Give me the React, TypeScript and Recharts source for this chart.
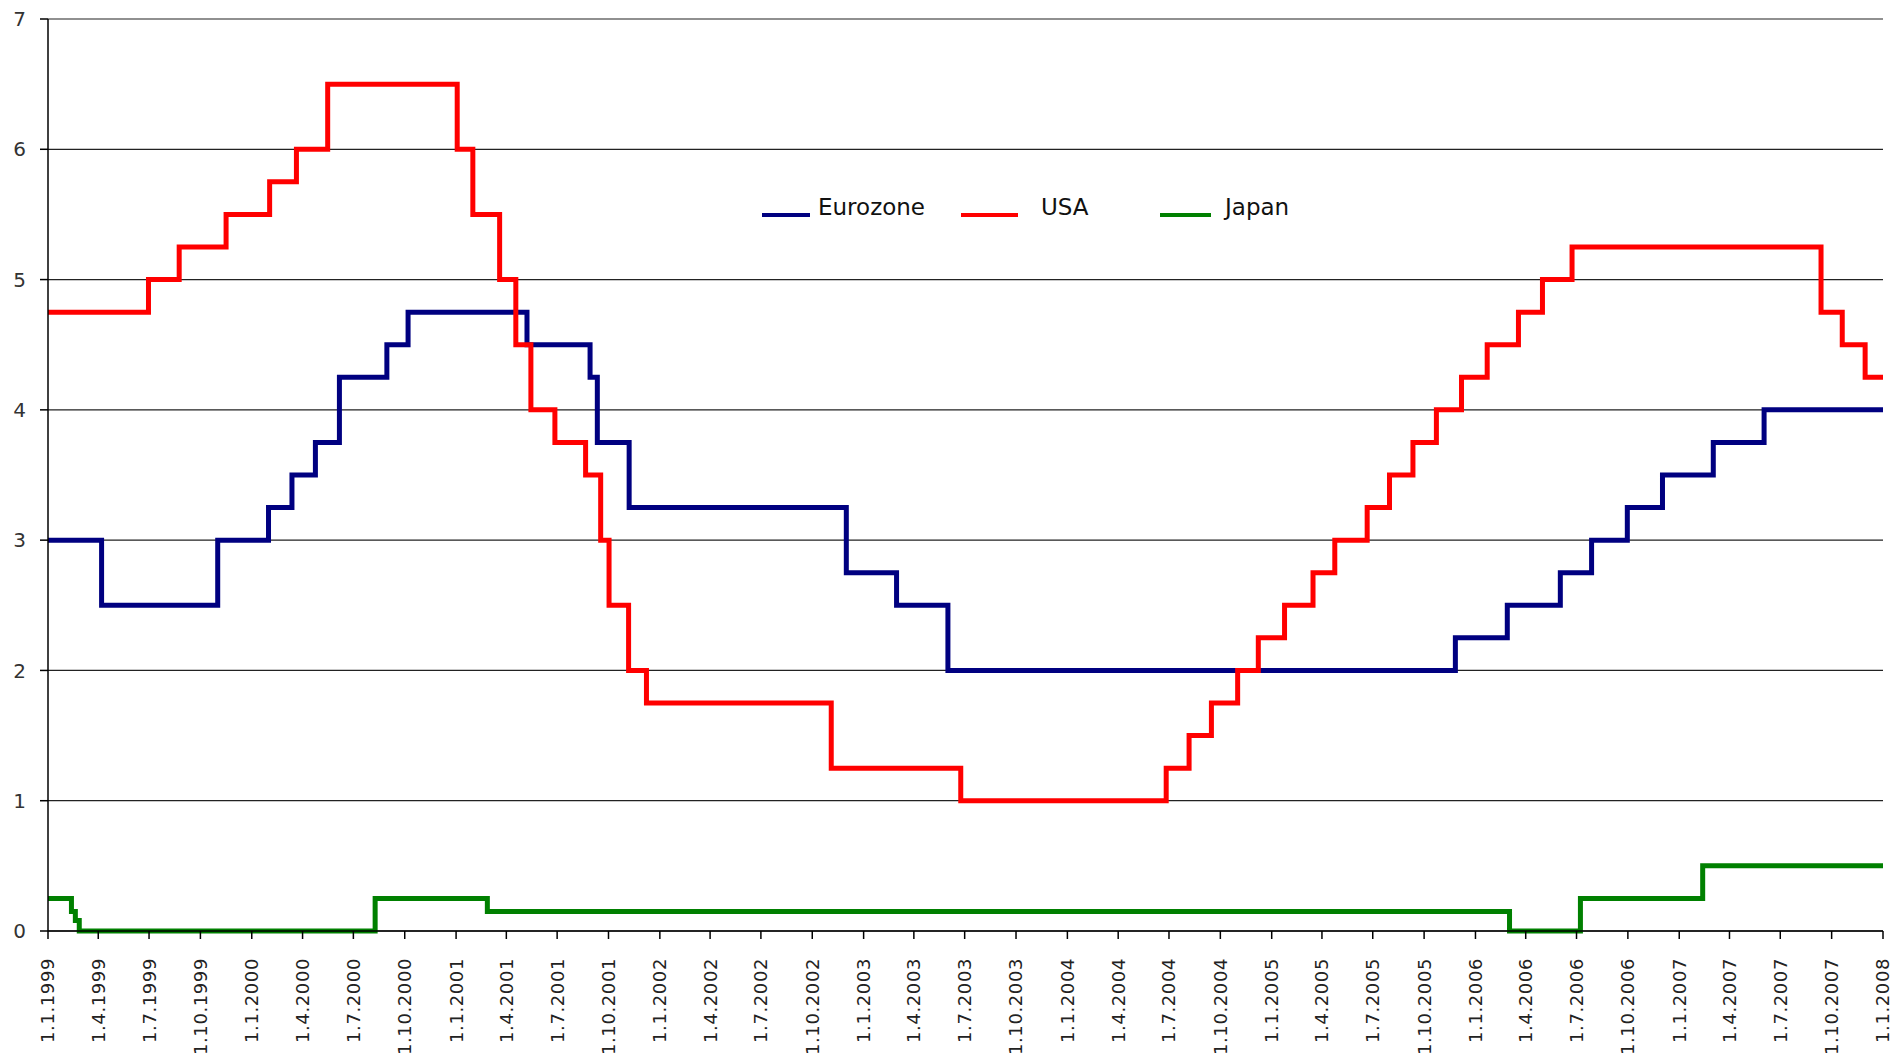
import React from 'react'
import { LineChart, Line, XAxis, YAxis, CartesianGrid } from 'recharts'

// Key interest rates, changes as (date, rate) in d.m.yyyy
const eurozoneDates = [
  '1.1.1999', '7.4.1999', '1.11.1999', '31.1.2000', '13.3.2000', '24.4.2000',
  '6.6.2000', '30.8.2000', '7.10.2000', '8.5.2001', '29.8.2001', '11.9.2001',
  '7.11.2001', '1.12.2002', '1.3.2003', '1.6.2003', '26.11.2005', '27.2.2006',
  '2.6.2006', '28.7.2006', '30.9.2006', '2.12.2006', '3.3.2007', '2.6.2007',
  '1.1.2008',
]
const eurozoneRates = [
  3.0, 2.5, 3.0, 3.25, 3.5, 3.75,
  4.25, 4.5, 4.75, 4.5, 4.25, 3.75,
  3.25, 2.75, 2.5, 2.0, 2.25, 2.5,
  2.75, 3.0, 3.25, 3.5, 3.75, 4.0,
  4.0,
]

const usaDates = [
  '1.1.1999', '30.6.1999', '24.8.1999', '16.11.1999', '2.2.2000', '21.3.2000',
  '16.5.2000', '3.1.2001', '31.1.2001', '20.3.2001', '18.4.2001', '15.5.2001',
  '27.6.2001', '21.8.2001', '17.9.2001', '2.10.2001', '6.11.2001', '8.12.2001',
  '4.11.2002', '24.6.2003', '26.6.2004', '6.8.2004', '15.9.2004', '1.11.2004',
  '8.12.2004', '24.1.2005', '16.3.2005', '24.4.2005', '21.6.2005', '31.7.2005',
  '11.9.2005', '23.10.2005', '7.12.2005', '22.1.2006', '19.3.2006', '1.5.2006',
  '23.6.2006', '12.9.2007', '20.10.2007', '30.11.2007', '1.1.2008',
]
const usaRates = [
  4.75, 5.0, 5.25, 5.5, 5.75, 6.0,
  6.5, 6.0, 5.5, 5.0, 4.5, 4.0,
  3.75, 3.5, 3.0, 2.5, 2.0, 1.75,
  1.25, 1.0, 1.25, 1.5, 1.75, 2.0,
  2.25, 2.5, 2.75, 3.0, 3.25, 3.5,
  3.75, 4.0, 4.25, 4.5, 4.75, 5.0,
  5.25, 4.75, 4.5, 4.25, 4.25,
]

const japanDates = [
  '1.1.1999', '12.2.1999', '19.2.1999', '26.2.1999', '9.8.2000', '26.2.2001',
  '3.3.2006', '8.7.2006', '12.2.2007', '1.1.2008',
]
const japanRates = [0.25, 0.15, 0.08, 0.0, 0.25, 0.15, 0.0, 0.25, 0.5, 0.5]

const tickLabels = [
  '1.1.1999', '1.4.1999', '1.7.1999', '1.10.1999',
  '1.1.2000', '1.4.2000', '1.7.2000', '1.10.2000',
  '1.1.2001', '1.4.2001', '1.7.2001', '1.10.2001',
  '1.1.2002', '1.4.2002', '1.7.2002', '1.10.2002',
  '1.1.2003', '1.4.2003', '1.7.2003', '1.10.2003',
  '1.1.2004', '1.4.2004', '1.7.2004', '1.10.2004',
  '1.1.2005', '1.4.2005', '1.7.2005', '1.10.2005',
  '1.1.2006', '1.4.2006', '1.7.2006', '1.10.2006',
  '1.1.2007', '1.4.2007', '1.7.2007', '1.10.2007',
  '1.1.2008',
]
const yTicks = [0, 1, 2, 3, 4, 5, 6, 7]

const parseDate = (s: string) => {
  const [d, m, y] = s.split('.').map(Number)
  return Date.UTC(y, m - 1, d)
}

const toSeries = (dates: string[], rates: number[]) =>
  dates.map((d, i) => ({ t: parseDate(d), rate: rates[i] }))

const series = [
  { name: 'Eurozone', color: '#000080', data: toSeries(eurozoneDates, eurozoneRates) },
  { name: 'USA', color: '#ff0000', data: toSeries(usaDates, usaRates) },
  { name: 'Japan', color: '#008000', data: toSeries(japanDates, japanRates) },
]

const tickValues = tickLabels.map(parseDate)
const labelFor = new Map(tickValues.map((v, i) => [v, tickLabels[i]]))

const XTick = (props: any) => {
  const { x, y, payload } = props
  const ty = y + 17
  return (
    <text
      x={x}
      y={ty}
      dy="0.36em"
      transform={`rotate(-90 ${x} ${ty})`}
      textAnchor="end"
      fontFamily="DejaVu Sans"
      fontSize={18}
      letterSpacing={0.6}
      fill="#222"
    >
      {labelFor.get(payload.value)}
    </text>
  )
}

// legend placement (page pixels)
const legendPos = [
  { lineX: 762, lineW: 48, textX: 818 },
  { lineX: 961, lineW: 57, textX: 1041 },
  { lineX: 1160, lineW: 51, textX: 1225 },
]

const ChartLegend = () => (
  <>
    {series.map((s, i) => (
      <React.Fragment key={s.name}>
        <div
          style={{
            position: 'absolute',
            left: legendPos[i].lineX,
            top: 213,
            width: legendPos[i].lineW,
            height: 4,
            background: s.color,
          }}
        />
        <div
          style={{
            position: 'absolute',
            left: legendPos[i].textX,
            top: 193,
            fontFamily: 'DejaVu Sans',
            fontSize: 23,
            lineHeight: '28px',
            color: '#111',
            whiteSpace: 'nowrap',
          }}
        >
          {s.name}
        </div>
      </React.Fragment>
    ))}
  </>
)

export default function App() {
  return (
    <div style={{ position: 'absolute', left: 0, top: 0, width: 1895, height: 1056, background: '#fff' }}>
      <LineChart width={1895} height={1056} margin={{ top: 19, right: 12, bottom: 0, left: 0 }}>
        <CartesianGrid vertical={false} stroke="#222" strokeWidth={1.2} />
        <XAxis
          dataKey="t"
          type="number"
          domain={[tickValues[0], tickValues[tickValues.length - 1]]}
          ticks={tickValues}
          interval={0}
          tick={<XTick />}
          height={125}
          tickSize={8}
          stroke="#000"
          strokeWidth={1.5}
          tickLine={{ stroke: '#000', strokeWidth: 1.5 }}
        />
        <YAxis
          type="number"
          domain={[0, 7]}
          ticks={yTicks}
          interval={0}
          width={48}
          tickSize={8}
          tickMargin={14}
          stroke="#000"
          strokeWidth={1.5}
          tick={{ fontFamily: 'DejaVu Sans', fontSize: 20, fill: '#333' }}
        />
        {series.map((s) => (
          <Line
            key={s.name}
            name={s.name}
            data={s.data}
            dataKey="rate"
            type="stepAfter"
            stroke={s.color}
            strokeWidth={5}
            dot={false}
            activeDot={false}
            isAnimationActive={false}
          />
        ))}
      </LineChart>
      <ChartLegend />
    </div>
  )
}
